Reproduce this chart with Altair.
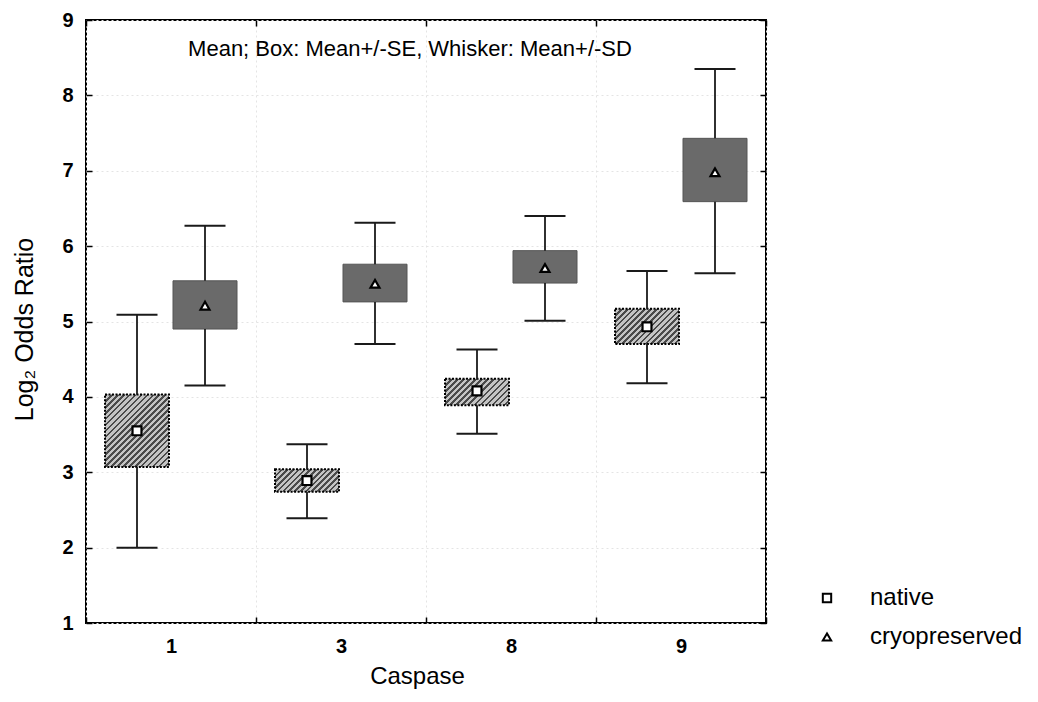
import altair as alt
import pandas as pd

# ---------------- data ----------------
caspases = ["1", "3", "8", "9"]
groups = ["native", "cryopreserved"]

native_mean = [3.55, 2.89, 4.08, 4.93]
native_se_lo = [3.07, 2.74, 3.89, 4.70]
native_se_hi = [4.03, 3.04, 4.24, 5.17]
native_sd_lo = [2.00, 2.39, 3.51, 4.18]
native_sd_hi = [5.09, 3.37, 4.63, 5.67]

cryo_mean = [5.21, 5.50, 5.71, 6.98]
cryo_se_lo = [4.90, 5.26, 5.51, 6.59]
cryo_se_hi = [5.54, 5.76, 5.94, 7.43]
cryo_sd_lo = [4.15, 4.70, 5.01, 5.64]
cryo_sd_hi = [6.27, 6.31, 6.40, 8.35]

y_ticks = [1, 2, 3, 4, 5, 6, 7, 8, 9]
annotation = "Mean; Box: Mean+/-SE,  Whisker: Mean+/-SD"

rows = []
for i, c in enumerate(caspases):
    rows.append(dict(caspase=c, group="native", mean=native_mean[i],
                     se_lo=native_se_lo[i], se_hi=native_se_hi[i],
                     sd_lo=native_sd_lo[i], sd_hi=native_sd_hi[i]))
    rows.append(dict(caspase=c, group="cryopreserved", mean=cryo_mean[i],
                     se_lo=cryo_se_lo[i], se_hi=cryo_se_hi[i],
                     sd_lo=cryo_sd_lo[i], sd_hi=cryo_sd_hi[i]))
df = pd.DataFrame(rows)
caps = df.melt(id_vars=["caspase", "group"], value_vars=["sd_lo", "sd_hi"],
               var_name="end", value_name="v")

# ---------------- layout ----------------
W, H = 680, 603
Y_MIN, Y_MAX = 1, 9
PX_PER_UNIT = H / (Y_MAX - Y_MIN)
BOX_W = 64
FONT = "Liberation Sans"

x_scale = alt.Scale(paddingInner=0, paddingOuter=0)
xo_scale = alt.Scale(domain=groups, paddingInner=0, paddingOuter=0.25)
y_scale = alt.Scale(domain=[Y_MIN, Y_MAX], nice=False, zero=False)

xo = alt.XOffset("group:N", scale=xo_scale, sort=groups)

def xenc(axis):
    return alt.X("caspase:N", sort=caspases, scale=x_scale, axis=axis)

def yenc(field, axis):
    return alt.Y(field, scale=y_scale, axis=axis)

main_x_axis = alt.Axis(title="Caspase", labelAngle=0, tickSize=0, labelPadding=13,
                       labelFontSize=20, labelFontWeight="bold", labelColor="black",
                       titleFontSize=24, titleFontWeight="normal", titleColor="black",
                       titleX=331, titleY=60, titleBaseline="alphabetic",
                       titleAlign="center", domain=False, grid=True,
                       tickBand="extent", gridColor="#e4e4e4", gridDash=[2, 3])
main_y_axis = alt.Axis(title="Log₂ Odds Ratio", values=y_ticks, tickSize=0,
                       labelPadding=13, labelFontSize=20, labelFontWeight="bold",
                       labelColor="black", titleFontSize=25,
                       titleFontWeight="normal", titleColor="black",
                       titleAngle=270, titleX=-54, titleY=309,
                       titleBaseline="alphabetic", titleAlign="center",
                       domain=False, grid=True, gridColor="#e4e4e4",
                       gridDash=[2, 3])

tick_common = dict(labels=False, title=None, domain=False, grid=False,
                   tickSize=6, tickColor="black", tickWidth=1.5)
# inward ticks on bottom / left edges
x_axis_bottom_in = alt.Axis(orient="top", offset=-H, tickBand="extent", **tick_common)
y_axis_left_in = alt.Axis(orient="right", offset=-W, values=y_ticks, **tick_common)
# inward ticks on top / right edges
x_axis_top_in = alt.Axis(orient="bottom", offset=-H, tickBand="extent", **tick_common)
y_axis_right_in = alt.Axis(orient="left", offset=-W, values=y_ticks, **tick_common)

base = alt.Chart(df)

# cryopreserved boxes (solid dark grey) - carries the main axes
cryo_box = base.transform_filter(alt.datum.group == "cryopreserved").mark_bar(
    size=BOX_W, fill="#6a6a6a", stroke="#555555", strokeWidth=1
).encode(x=xenc(main_x_axis), xOffset=xo,
         y=yenc("se_lo:Q", main_y_axis), y2="se_hi:Q")

# native boxes (diagonal hatch drawn with a hard-stop gradient)
def hatch(h_px, w_px=BOX_W, period=4.2, dark="#4a4a4a", light="#c4c4c4"):
    s = (1 + h_px / w_px) / (1 + (h_px / w_px) ** 2)
    n = max(1, round((w_px + h_px) / (period * 2 ** 0.5)))
    stops = []
    for k in range(n):
        a, b, c = k / n, (k + 0.45) / n, (k + 1) / n
        stops += [alt.GradientStop(offset=a, color=dark),
                  alt.GradientStop(offset=b, color=dark),
                  alt.GradientStop(offset=b, color=light),
                  alt.GradientStop(offset=c, color=light)]
    return alt.LinearGradient(gradient="linear", stops=stops,
                              x1=0, y1=0, x2=s, y2=s * h_px / w_px)

native_boxes = []
for i, c in enumerate(caspases):
    h_px = (native_se_hi[i] - native_se_lo[i]) * PX_PER_UNIT
    native_boxes.append(
        base.transform_filter((alt.datum.group == "native") & (alt.datum.caspase == c))
        .mark_bar(size=BOX_W, fill=hatch(h_px), stroke="black", strokeWidth=2,
                  strokeDash=[2, 1.5])
        .encode(x=xenc(None), xOffset=xo, y=yenc("se_lo:Q", None), y2="se_hi:Q")
    )

# whiskers: lower part and upper part (so they do not cross the boxes)
whisk_lo = base.mark_rule(color="#1a1a1a", strokeWidth=1.8).encode(
    x=xenc(x_axis_bottom_in), xOffset=xo,
    y=yenc("sd_lo:Q", y_axis_left_in), y2="se_lo:Q")
whisk_hi = base.mark_rule(color="#1a1a1a", strokeWidth=1.8).encode(
    x=xenc(None), xOffset=xo, y=yenc("se_hi:Q", None), y2="sd_hi:Q")

# whisker caps
cap_ticks = alt.Chart(caps).mark_tick(
    orient="horizontal", size=41, thickness=2, color="#1a1a1a", opacity=1
).encode(x=xenc(x_axis_top_in), xOffset=xo, y=yenc("v:Q", y_axis_right_in))

# white interiors of the mean markers
white_sq = base.transform_filter(alt.datum.group == "native").mark_point(
    shape="square", filled=True, color="white", opacity=1, size=80
).encode(x=xenc(None), xOffset=xo, y=yenc("mean:Q", None))
white_tri = base.transform_filter(alt.datum.group == "cryopreserved").mark_point(
    shape="triangle-up", filled=True, color="white", opacity=1, size=80
).encode(x=xenc(None), xOffset=xo, y=yenc("mean:Q", None))

# mean marker outlines (carry the legend)
means = base.mark_point(filled=False, color="black", strokeWidth=2.2,
                        opacity=1, size=80).encode(
    x=xenc(None), xOffset=xo, y=yenc("mean:Q", None),
    shape=alt.Shape("group:N", sort=groups,
                    scale=alt.Scale(domain=groups, range=["square", "triangle-up"]),
                    legend=alt.Legend(orient="none", legendX=729, legendY=566,
                                      title=None, padding=0, labelFontSize=24,
                                      labelColor="black", labelOffset=31,
                                      rowPadding=15, symbolSize=70,
                                      symbolStrokeColor="black",
                                      symbolStrokeWidth=2)),
)

note = alt.Chart(pd.DataFrame({"t": [annotation]})).mark_text(
    fontSize=22, color="black", align="center", baseline="middle", font=FONT
).encode(x=alt.value(324), y=alt.value(29), text="t:N")

chart = alt.layer(
    cryo_box, *native_boxes, whisk_lo, whisk_hi, cap_ticks,
    white_sq, white_tri, means, note
).resolve_axis(x="independent", y="independent").properties(
    width=W, height=H,
    autosize=alt.AutoSizeParams(type="none"),
    padding={"left": 78, "top": 12, "right": 262, "bottom": 69},
).configure(font=FONT).configure_view(stroke="black", strokeWidth=2).configure_axis(
    labelFont=FONT, titleFont=FONT
).configure_legend(labelFont=FONT)

chart.save("out.html", embed_options={"renderer": "svg", "actions": False})
